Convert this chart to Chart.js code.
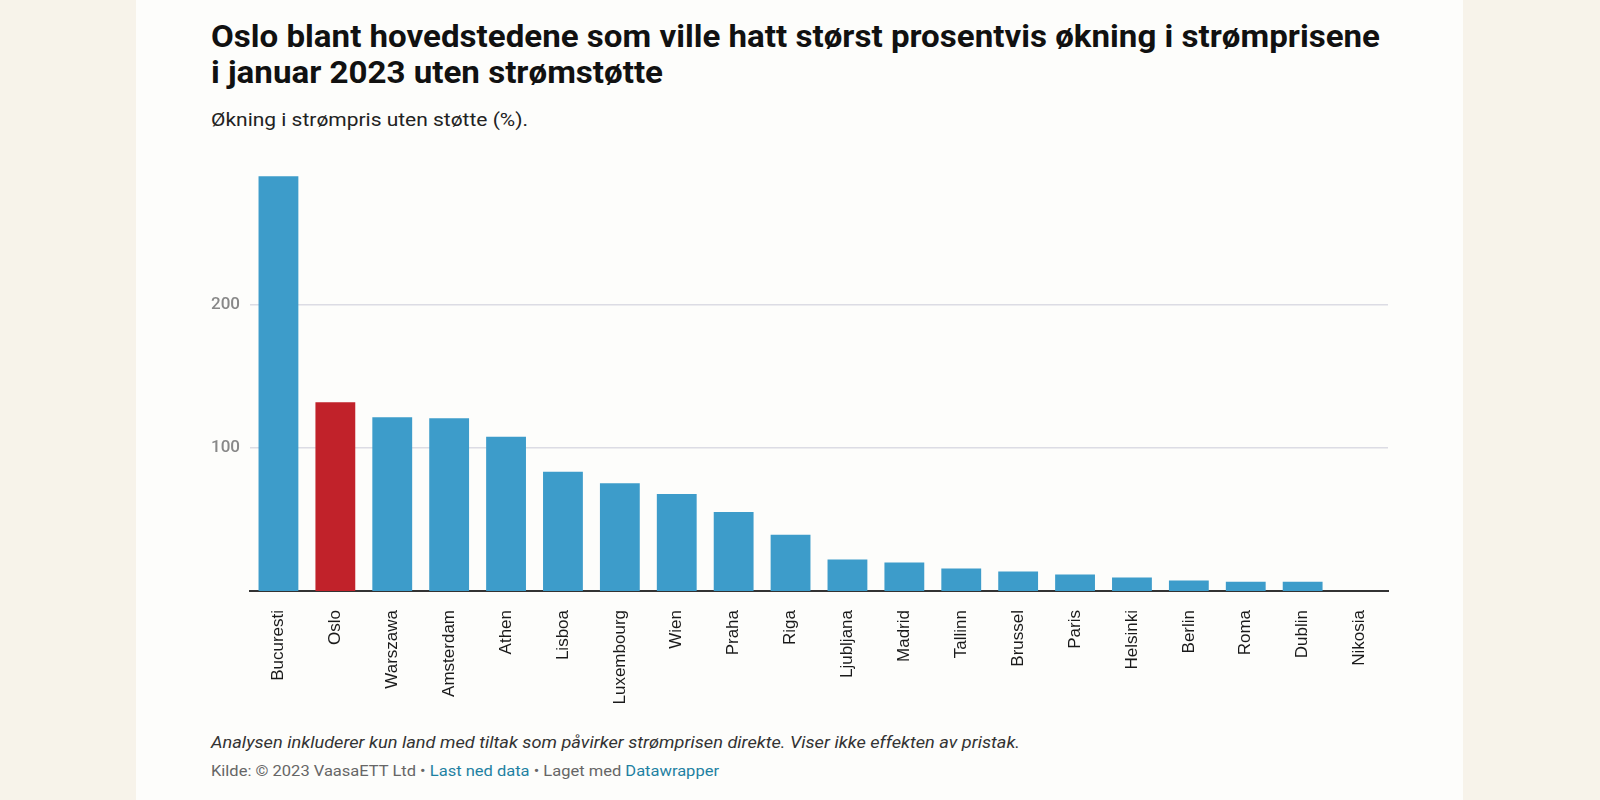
<!DOCTYPE html>
<html>
<head>
<meta charset="utf-8">
<script src="https://cdn.jsdelivr.net/npm/chart.js@4/dist/chart.umd.min.js"></script>
<style>
  html, body { margin:0; padding:0; }
  body { width:1600px; height:800px; background:#f7f3ea; position:relative; overflow:hidden; font-family:Roboto, sans-serif; }
  #card { position:absolute; left:136px; top:0; width:1327px; height:800px; background:#fdfdfb; }
  .t { position:absolute; left:211px; white-space:nowrap; transform-origin:0 0; }
  #title1, #title2 { font-weight:700; font-size:31px; color:#111; line-height:36px; }
  #title1 { top:19px; }
  #title2 { top:55px; }
  #sub { top:108px; font-size:18px; color:#222; line-height:24px; }
  #note { top:731px; font-size:17px; font-style:italic; color:#333; line-height:22px; }
  #src { top:761px; font-size:15px; color:#666; line-height:20px; }
  #src a { color:#1d81a2; text-decoration:none; }
  #chartWrap { position:absolute; left:0; top:0; width:1600px; height:800px; }
</style>
</head>
<body>
<div id="card"></div>
<div class="t" id="title1" data-w="1169">Oslo blant hovedstedene som ville hatt størst prosentvis økning i strømprisene</div>
<div class="t" id="title2" data-w="452">i januar 2023 uten strømstøtte</div>
<div class="t" id="sub" data-w="317">Økning i strømpris uten støtte (%).</div>
<div class="t" id="note" data-w="809">Analysen inkluderer kun land med tiltak som påvirker strømprisen direkte. Viser ikke effekten av pristak.</div>
<div class="t" id="src" data-w="508">Kilde: © 2023 VaasaETT Ltd • <a>Last ned data</a> • Laget med <a>Datawrapper</a></div>
<div id="chartWrap"><canvas id="c" width="1600" height="800"></canvas></div>
<script>
const categories = ["Bucuresti","Oslo","Warszawa","Amsterdam","Athen","Lisboa","Luxembourg","Wien","Praha","Riga","Ljubljana","Madrid","Tallinn","Brussel","Paris","Helsinki","Berlin","Roma","Dublin","Nikosia"];
const increasePct = [290, 132, 121.5, 120.8, 107.9, 83.4, 75.3, 67.8, 55.2, 39.4, 22.1, 20, 15.8, 13.7, 11.6, 9.5, 7.4, 6.5, 6.5, 0];
const yTickValues = [100, 200];
const highlighted = "Oslo";

// fit text widths to the reference
document.querySelectorAll('.t').forEach(el => {
  const target = parseFloat(el.dataset.w);
  const w = el.getBoundingClientRect().width;
  if (w > 0) el.style.transform = 'scaleX(' + (target / w) + ')';
});

const BLUE = '#3d9cca', RED = '#c1222a';
const barColors = categories.map(c => c === highlighted ? RED : BLUE);

const Y_W = 60, X_H = 115;
new Chart(document.getElementById('c'), {
  type: 'bar',
  data: {
    labels: categories,
    datasets: [{
      data: increasePct,
      backgroundColor: barColors,
      borderWidth: 0,
      barPercentage: 0.7,
      categoryPercentage: 1.0
    }]
  },
  options: {
    responsive: false,
    animation: false,
    devicePixelRatio: 1,
    layout: { padding: { left: 250 - Y_W, right: 1600 - 1388, top: 591 - 300 * 1.43, bottom: 800 - 591 - X_H } },
    plugins: { legend: { display: false }, tooltip: { enabled: false }, title: { display: false } },
    scales: {
      x: {
        grid: { display: false },
        border: { display: true, color: '#333', width: 2 },
        ticks: {
          minRotation: 90, maxRotation: 90, autoSkip: false, padding: 11,
          color: '#1a1a1a', font: { family: '"Liberation Sans", Arial, sans-serif', size: 17 }
        },
        afterFit: s => { s.height = X_H; }
      },
      y: {
        min: 0, max: 300,
        afterBuildTicks: s => { s.ticks = yTickValues.map(v => ({ value: v })); },
        afterFit: s => { s.width = Y_W; },
        grid: { color: '#dcdce4', lineWidth: 1.5, drawTicks: false },
        border: { display: false },
        ticks: {
          padding: 10, color: '#888888',
          font: { family: 'Roboto, sans-serif', size: 17, weight: '500' }
        }
      }
    }
  }
});
</script>
</body>
</html>
